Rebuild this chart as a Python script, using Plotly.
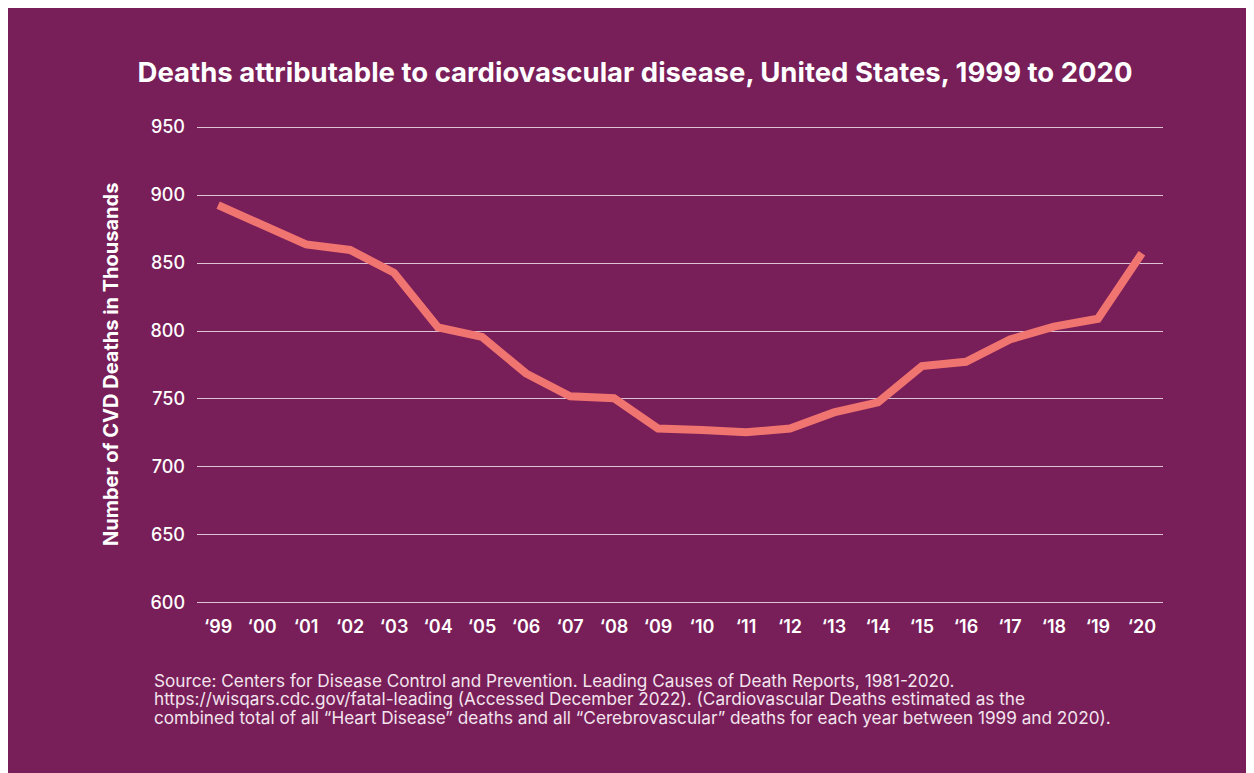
import plotly.graph_objects as go

years = ["‘99", "‘00", "‘01", "‘02", "‘03", "‘04", "‘05", "‘06", "‘07", "‘08", "‘09",
         "‘10", "‘11", "‘12", "‘13", "‘14", "‘15", "‘16", "‘17", "‘18", "‘19", "‘20"]
deaths = [892.6, 878.4, 863.7, 859.6, 842.8, 802.6, 795.7, 768.8, 752.0, 750.6, 728.3,
          727.2, 725.5, 728.3, 740.1, 747.5, 774.2, 777.4, 793.8, 803.2, 809.0, 857.2]
y_ticks = [600, 650, 700, 750, 800, 850, 900, 950]
source_lines = [
    "Source: Centers for Disease Control and Prevention. Leading Causes of Death Reports, 1981-2020.",
    "https://wisqars.cdc.gov/fatal-leading (Accessed December 2022). (Cardiovascular Deaths estimated as the",
    "combined total of all “Heart Disease” deaths and all “Cerebrovascular” deaths for each year between 1999 and 2020).",
]

PURPLE = "#781E58"
LINE = "#F07470"
FONT = "Inter"

W, H = 1254, 773
L, R, T, B = 189, 99, 115, 174
PW, PH = W - L - R, H - T - B


def px_x(fx):
    return (fx - L) / PW


def px_y(fy):
    return (H - B - fy) / PH


fig = go.Figure()
fig.add_trace(go.Scatter(
    x=list(range(len(years))), y=deaths, mode="lines",
    line=dict(color=LINE, width=8), hoverinfo="skip", showlegend=False,
))

annotations = [
    dict(text="Number of CVD Deaths in Thousands", textangle=-90,
         x=px_x(103), y=px_y(357), xref="paper", yref="paper",
         xanchor="center", yanchor="middle", showarrow=False,
         font=dict(family=FONT, size=20, color="white", weight=700)),
]
for i, (line, fy) in enumerate(zip(source_lines, [672, 690.5, 709])):
    annotations.append(dict(
        text=line, x=px_x(144), y=px_y(fy), xref="paper", yref="paper",
        xanchor="left", yanchor="middle", showarrow=False, align="left",
        font=dict(family=FONT, size=17.2, color="#F3E4EE"),
    ))

fig.update_layout(
    width=W, height=H,
    paper_bgcolor=PURPLE, plot_bgcolor=PURPLE,
    margin=dict(l=L, r=R, t=T, b=B),
    font=dict(family=FONT, color="white"),
    title=dict(
        text="Deaths attributable to cardiovascular disease, United States, 1999 to 2020",
        font=dict(family=FONT, size=27.5, color="white", weight=700),
        x=627 / W, xref="container", xanchor="center",
        y=1 - 64 / H, yref="container", yanchor="middle",
    ),
    xaxis=dict(
        tickmode="array", tickvals=list(range(len(years))), ticktext=years,
        range=[-0.48, 21.48], showgrid=False, zeroline=False, showline=False,
        ticks="", tickfont=dict(family=FONT, size=18, color="white", weight=600),
        ticklabelstandoff=7, fixedrange=True,
    ),
    yaxis=dict(
        tickmode="array", tickvals=y_ticks, range=[597, 953],
        showgrid=True, gridcolor="#DCC3D4", gridwidth=1, zeroline=False, showline=False,
        ticks="", tickfont=dict(family=FONT, size=18, color="white", weight=500),
        ticklabelstandoff=11, fixedrange=True,
    ),
    annotations=annotations,
)

fig.write_html("out.html")
